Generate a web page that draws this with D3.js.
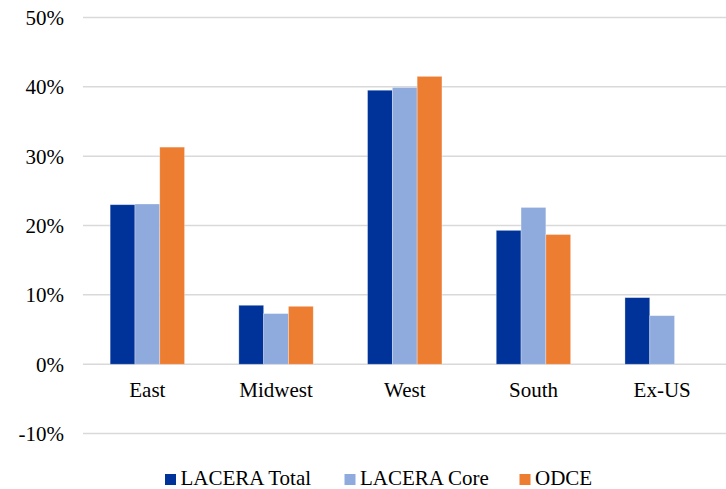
<!DOCTYPE html>
<html><head><meta charset="utf-8">
<script src="https://cdn.jsdelivr.net/npm/d3@7"></script>
<style>body{margin:0;background:#fff}svg{display:block}</style>
</head><body>
<svg id="c" width="726" height="489" font-family="Liberation Serif"></svg>
<script>
const categories = ["East", "Midwest", "West", "South", "Ex-US"];
const seriesNames = ["LACERA Total", "LACERA Core", "ODCE"];
const laceraTotal = [23.0, 8.5, 39.5, 19.3, 9.6];
const laceraCore  = [23.1, 7.3, 39.9, 22.6, 7.0];
const odce        = [31.3, 8.35, 41.5, 18.7, null];
const yTicks = [-10, 0, 10, 20, 30, 40, 50];
const colors = ["#003399", "#8faadc", "#ed7d31"];

const series = [laceraTotal, laceraCore, odce];
const svg = d3.select("#c");
const FONT = "Liberation Serif";

const x = d3.scaleBand().domain(categories).range([83, 726.5]).padding(0);
const inner = d3.scaleBand().domain(seriesNames).range([0, x.bandwidth()]).paddingInner(0).paddingOuter(1.095);
const y = d3.scaleLinear().domain([-10, 50]).range([433.6, 17.4]);

// gridlines
svg.append("g").selectAll("line").data(yTicks).join("line")
  .attr("x1", 83).attr("x2", 726).attr("y1", d => y(d)).attr("y2", d => y(d))
  .attr("stroke", "#d9d9d9").attr("stroke-width", 1.5);

const yAxis = d3.axisLeft(y).tickValues(yTicks).tickFormat(d => d + "%").tickSize(0).tickPadding(0);
const g = svg.append("g").attr("transform", "translate(64,0)").call(yAxis);
g.attr("font-family", FONT).attr("font-size", 21);
g.select(".domain").remove();
g.selectAll("text").attr("font-family", FONT).attr("font-size", 21).attr("fill", "#000").attr("dy", "0.33em");

// bars
const groups = svg.append("g").selectAll("g").data(categories).join("g")
  .attr("transform", d => `translate(${x(d)},0)`);
groups.selectAll("rect").data((c, i) => series.map((s, k) => ({k, v: s[i]})).filter(d => d.v != null))
  .join("rect")
  .attr("x", d => inner(seriesNames[d.k]))
  .attr("width", inner.bandwidth())
  .attr("y", d => y(Math.max(0, d.v)))
  .attr("height", d => Math.abs(y(d.v) - y(0)))
  .attr("fill", d => colors[d.k])
  .attr("stroke", "#fff").attr("stroke-opacity", 0.4).attr("stroke-width", 0.75);

// category labels
const xAxis = d3.axisBottom(x).tickSize(0).tickPadding(0);
const gx = svg.append("g").attr("transform", "translate(0,396.5)").call(xAxis);
gx.attr("font-family", FONT).attr("font-size", 21);
gx.select(".domain").remove();
gx.selectAll("text").attr("font-family", FONT).attr("font-size", 21).attr("fill", "#000").attr("dy", 0);

// legend
const legendX = [165, 344.5, 519.5];
const lg = svg.append("g").attr("font-family", FONT).selectAll("g").data(seriesNames).join("g")
  .attr("transform", (d, i) => `translate(${legendX[i]},0)`);
lg.append("rect").attr("x", 0).attr("y", 474).attr("width", 11).attr("height", 11).attr("fill", (d, i) => colors[i]);
lg.append("text").attr("x", 15.5).attr("y", 485).attr("font-family", FONT)
  .attr("font-size", 21).attr("fill", "#000").text(d => d);
</script>
</body></html>
